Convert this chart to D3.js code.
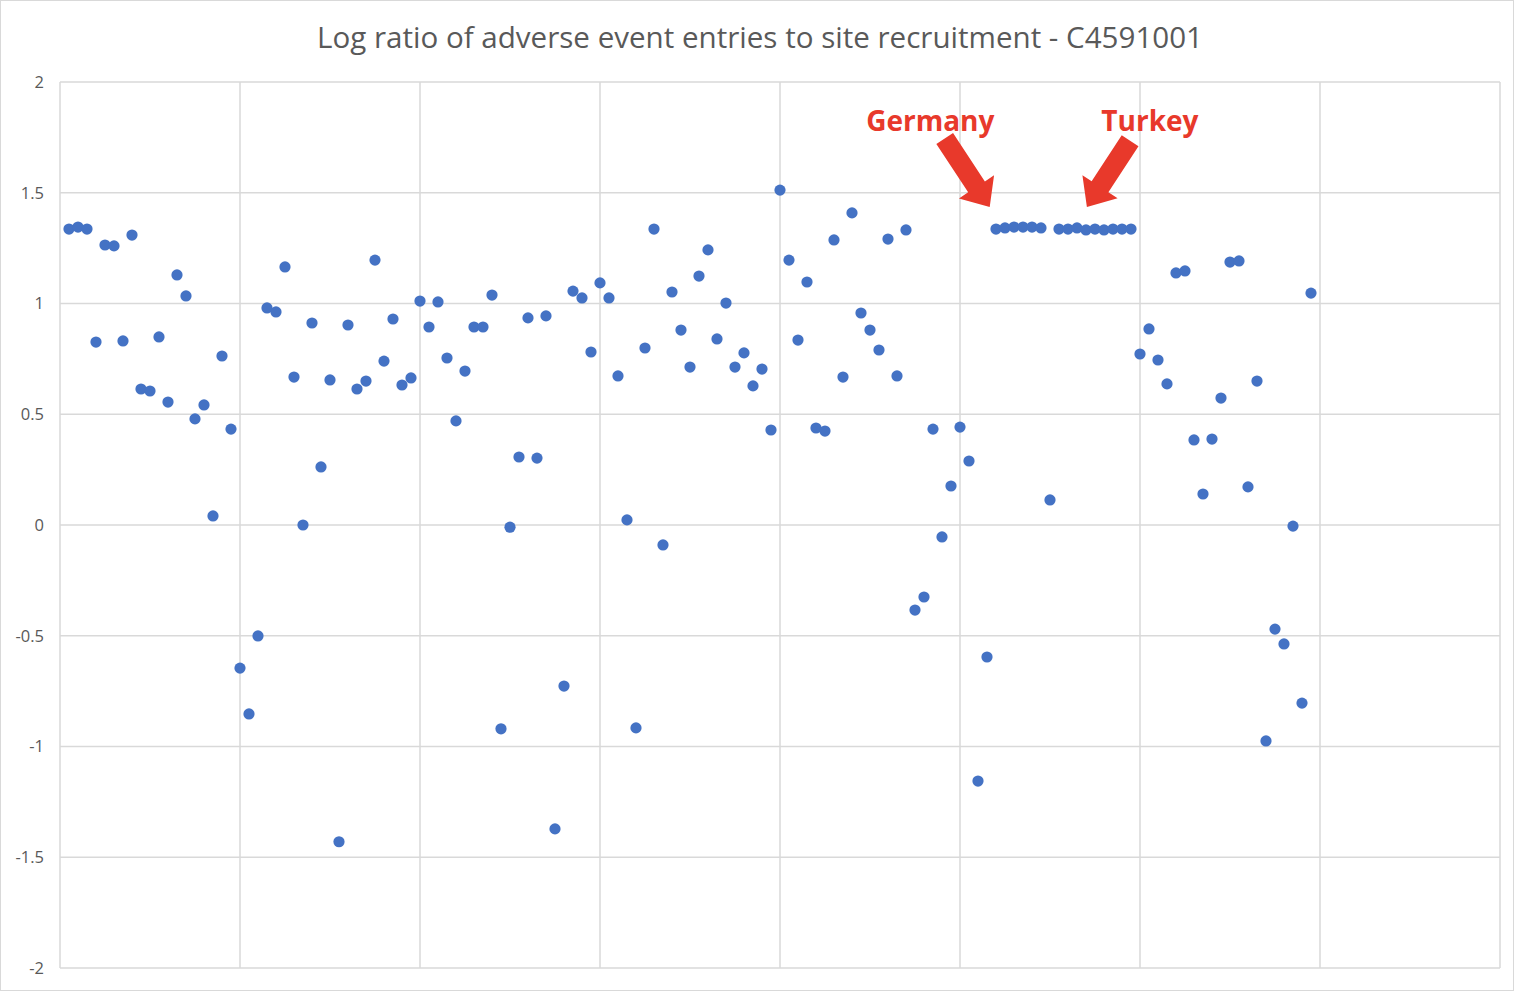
<!DOCTYPE html>
<html>
  <head>
    <meta charset="utf-8">
    <title>Log ratio of adverse event entries to site recruitment</title>
    <script src="https://d3js.org/d3.v7.min.js"></script>
    <style>
      body { margin: 0; background: #fff; }
      svg { display: block; font-family: "Open Sans", sans-serif; }
    </style>
  </head>
  <body>
    <svg id="chart" width="1514" height="991"></svg>
    <script>
      // site number (x) and log ratio (y)
      const sites = [
        1, 2, 3, 4, 5, 6, 7, 8, 9, 10, 11, 12, 13, 14, 15, 16, 17, 18, 19, 20,
        21, 22, 23, 24, 25, 26, 27, 28, 29, 30, 31, 32, 33, 34, 35, 36, 37, 38, 39, 40,
        41, 42, 43, 44, 45, 46, 47, 48, 49, 50, 51, 52, 53, 54, 55, 56, 57, 58, 59, 60,
        61, 62, 63, 64, 65, 66, 67, 68, 69, 70, 71, 72, 73, 74, 75, 76, 77, 78, 79, 80,
        81, 82, 83, 84, 85, 86, 87, 88, 89, 90, 91, 92, 93, 94, 95, 96, 97, 98, 99, 100,
        101, 102, 103, 104, 105, 106, 107, 108, 109, 110, 111, 112, 113, 114, 115, 116, 117, 118, 119, 120,
        121, 122, 123, 124, 125, 126, 127, 128, 129, 130, 131, 132, 133, 134, 135, 136, 137, 138, 139
      ];
      const logRatio = [
        1.336, 1.345, 1.336, 0.826, 1.264, 1.26, 0.831, 1.309, 0.614, 0.605,
        0.849, 0.555, 1.129, 1.034, 0.479, 0.542, 0.041, 0.763, 0.433, -0.646,
        -0.853, -0.501, 0.98, 0.962, 1.165, 0.668, 0.0, 0.912, 0.262, 0.655,
        -1.43, 0.903, 0.614, 0.65, 1.196, 0.74, 0.93, 0.632, 0.664, 1.011,
        0.894, 1.007, 0.754, 0.47, 0.695, 0.894, 0.894, 1.038, -0.92, -0.01,
        0.307, 0.935, 0.302, 0.944, -1.372, -0.727, 1.056, 1.025, 0.781, 1.093,
        1.025, 0.673, 0.023, -0.916, 0.799, 1.336, -0.09, 1.052, 0.88, 0.713,
        1.124, 1.242, 0.84, 1.002, 0.713, 0.777, 0.628, 0.704, 0.429, 1.512,
        1.196, 0.835, 1.097, 0.438, 0.424, 1.287, 0.668, 1.409, 0.957, 0.88,
        0.79, 1.291, 0.673, 1.332, -0.384, -0.325, 0.433, -0.054, 0.176, 0.442,
        0.289, -1.156, -0.596, 1.336, 1.341, 1.345, 1.345, 1.345, 1.341, 0.113,
        1.336, 1.336, 1.341, 1.332, 1.336, 1.332, 1.336, 1.336, 1.336, 0.772,
        0.885, 0.745, 0.637, 1.138, 1.147, 0.384, 0.14, 0.388, 0.573, 1.187,
        1.192, 0.172, 0.65, -0.975, -0.47, -0.537, -0.005, -0.804, 1.047
      ];
      const yTicks = [-2, -1.5, -1, -0.5, 0, 0.5, 1, 1.5, 2];
      const xTicks = [0, 20, 40, 60, 80, 100, 120, 140, 160];
      // call-outs: label position and arrow tail / tip, in data units
      const callouts = [
        { name: "Germany", lx: 96.7, ly: 1.78, tail: [98.3, 1.745], tip: [103.3, 1.436] },
        { name: "Turkey", lx: 121.1, ly: 1.78, tail: [118.9, 1.735], tip: [114.1, 1.436] }
      ];

      const svg = d3.select("#chart");
      const width = 1514, height = 991;
      const margin = { top: 82, right: 14, bottom: 23, left: 60 };

      const x = d3.scaleLinear().domain([0, 160]).range([margin.left, width - margin.right]);
      const y = d3.scaleLinear().domain([-2, 2]).range([height - margin.bottom, margin.top]);

      // chart frame
      svg.append("rect")
        .attr("x", 0.5).attr("y", 0.5)
        .attr("width", width - 1).attr("height", height - 1)
        .attr("fill", "#fff").attr("stroke", "#d9d9d9");

      // title
      svg.append("text")
        .attr("x", (317 + 1203) / 2).attr("y", 48)
        .attr("text-anchor", "middle")
        .attr("fill", "#595959")
        .attr("font-size", 29)
        .attr("font-weight", 500)
        .attr("textLength", 886)
        .attr("lengthAdjust", "spacingAndGlyphs")
        .text("Log ratio of adverse event entries to site recruitment - C4591001");

      // gridlines
      const grid = svg.append("g").attr("stroke", "#d9d9d9").attr("stroke-width", 1.5);
      grid.selectAll(".h").data(yTicks).join("line")
        .attr("x1", x(0)).attr("x2", x(160))
        .attr("y1", d => y(d)).attr("y2", d => y(d));
      grid.selectAll(".v").data(xTicks).join("line")
        .attr("x1", d => x(d)).attr("x2", d => x(d))
        .attr("y1", y(2)).attr("y2", y(-2));

      // y axis labels (plain hyphen for negatives, like Excel)
      const yAxis = d3.axisLeft(y).tickValues(yTicks).tickSize(0).tickPadding(16)
        .tickFormat(d => String(d));
      svg.append("g")
        .attr("transform", "translate(" + x(0) + ",0)")
        .call(yAxis)
        .call(g => g.select(".domain").remove())
        .selectAll("text")
          .attr("fill", "#595959")
          .attr("font-size", 16.5)
          .attr("font-family", "Open Sans, sans-serif");

      // points
      svg.append("g").selectAll("circle")
        .data(sites)
        .join("circle")
          .attr("cx", d => x(d))
          .attr("cy", (d, i) => y(logRatio[i]))
          .attr("r", 5.6)
          .attr("fill", "#4472c4");

      // red call-outs
      function blockArrow(t0, t1) {
        const x0 = x(t0[0]), y0 = y(t0[1]), x1 = x(t1[0]), y1 = y(t1[1]);
        const len = Math.hypot(x1 - x0, y1 - y0);
        const ux = (x1 - x0) / len, uy = (y1 - y0) / len;
        const px = -uy, py = ux;
        const shaft = 10, head = 21, headLen = 24;
        const bx = x1 - ux * headLen, by = y1 - uy * headLen;
        const pts = [
          [x0 + px * shaft, y0 + py * shaft],
          [bx + px * shaft, by + py * shaft],
          [bx + px * head, by + py * head],
          [x1, y1],
          [bx - px * head, by - py * head],
          [bx - px * shaft, by - py * shaft],
          [x0 - px * shaft, y0 - py * shaft]
        ];
        return "M" + pts.map(p => p.join(",")).join("L") + "Z";
      }
      const notes = svg.append("g");
      notes.selectAll("path").data(callouts).join("path")
        .attr("d", d => blockArrow(d.tail, d.tip))
        .attr("fill", "#e8392b");
      notes.selectAll("text").data(callouts).join("text")
        .attr("x", d => x(d.lx)).attr("y", d => y(d.ly))
        .attr("text-anchor", "middle")
        .attr("fill", "#e8392b")
        .attr("font-size", 28)
        .attr("font-weight", 700)
        .text(d => d.name);
    </script>
  </body>
</html>
